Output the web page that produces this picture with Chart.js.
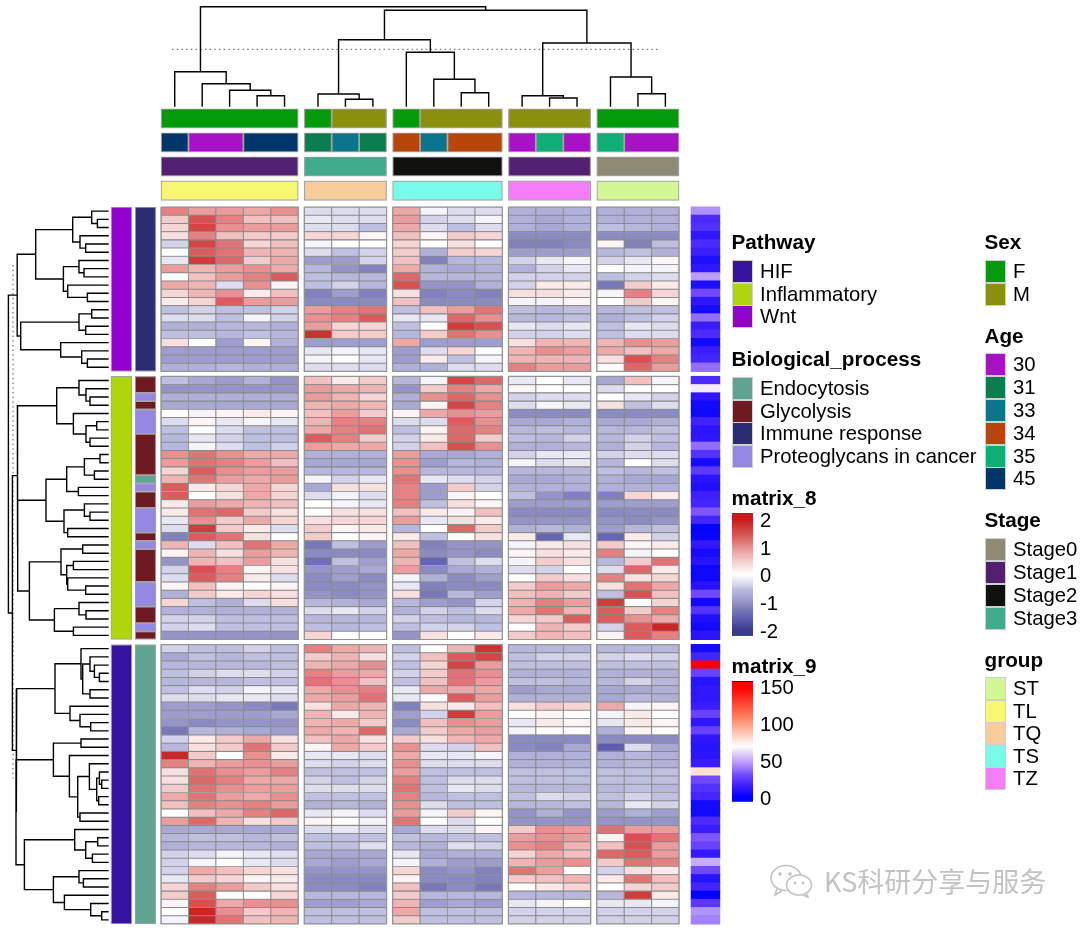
<!DOCTYPE html>
<html><head><meta charset="utf-8">
<style>
html,body{margin:0;padding:0;background:#fff;width:1080px;height:930px;overflow:hidden;font-family:"Liberation Sans",Arial,sans-serif;color:#000}
#wrap{position:relative;width:1080px;height:930px}
canvas{position:absolute;left:0;top:0}
.t{position:absolute;white-space:nowrap;line-height:1;transform:translateY(-50%);font-size:20.3px}
.b{font-weight:bold;font-size:20.7px}
.s{position:absolute;box-sizing:border-box;border:1px solid #cfcfcf}
.wm{font-family:"Noto Sans CJK SC";font-size:27px;color:#c2c2c2;letter-spacing:0}
</style></head><body><div id="wrap"><canvas id="c" width="1080" height="930"></canvas></div>
<script src="https://cdn.jsdelivr.net/npm/chart.js"></script>
<script>
// ---- column annotations
const sexByCol=['F','F','F','F','F','F','M','M','F','M','M','M','M','M','M','F','F','F'];
const ageByCol=[45,30,30,45,45,31,33,31,34,33,34,34,30,35,30,35,30,30];
const stageByCol=['Stage1','Stage1','Stage1','Stage1','Stage1','Stage3','Stage3','Stage3','Stage2','Stage2','Stage2','Stage2','Stage1','Stage1','Stage1','Stage0','Stage0','Stage0'];
const groupByCol=['TL','TL','TL','TL','TL','TQ','TQ','TQ','TS','TS','TS','TS','TZ','TZ','TZ','ST','ST','ST'];
const colGroupSizes=[5,3,4,3,3];
// ---- matrix_8 values (tenths of a z-score), one array per row
const rowsWnt=[
[11,9,9,8,10,-3,-3,-3,8,-1,-3,-3,-7,-7,-7,-7,-7,-7],
[5,15,11,6,6,-2,-3,-3,9,-4,-3,-1,-7,-8,-7,-7,-7,-7],
[4,16,10,9,9,-3,-3,-5,8,-3,-5,-3,-7,-8,-7,-5,-6,-7],
[3,11,6,5,5,4,4,1,6,1,5,4,-11,-11,-11,-11,-11,-11],
[-4,16,12,4,6,-1,0,0,4,0,3,0,-12,-12,-11,1,-12,-5],
[0,14,12,7,7,-3,-5,-4,5,-7,5,4,-9,-9,-9,-6,-5,-7],
[-2,17,13,5,8,-9,-9,-4,6,-12,-6,-6,-4,-2,-1,-4,-2,1],
[9,7,9,10,8,-6,-10,-12,8,-7,-8,-7,-7,-4,-2,0,-1,-1],
[0,6,9,11,14,-5,-6,-6,13,-6,-6,-6,-4,-4,-4,-5,-4,-3],
[8,7,-3,10,1,-5,-4,-6,15,-10,-10,-7,-4,2,2,-13,5,2],
[4,7,10,2,6,-12,-9,-12,3,-12,-11,-12,3,3,2,-1,11,4],
[2,4,14,9,9,-11,-11,-11,6,-11,-11,-11,-1,-1,1,0,5,1],
[-5,-4,-5,-5,-4,9,11,12,-5,6,9,12,-5,-6,-5,-6,-5,-5],
[-3,-3,-5,-1,-4,10,11,14,-2,-2,13,10,-6,-6,-5,-7,-5,-4],
[-7,-7,-6,-6,-7,9,4,4,-5,0,17,15,-2,-3,-2,-5,-2,-3],
[-5,-5,-6,-5,-6,18,5,5,-6,5,12,10,-4,-4,-3,-5,-3,-3],
[3,0,-9,1,-7,-9,-9,-9,8,-9,-9,-9,3,7,7,7,10,9],
[-9,-9,-9,-9,-9,-2,-1,-2,-9,-3,4,0,7,10,9,8,6,8],
[-9,-9,-9,-9,-9,-1,0,-2,-9,2,-5,-1,7,7,7,3,15,11],
[-7,-7,-6,-7,-7,-3,-3,-3,-7,-7,-3,-3,11,9,9,0,13,9]];
const rowsInflammatory=[
[-5,-8,-9,-7,-10,6,2,5,-6,-1,16,13,-2,0,-2,-8,6,-1],
[-10,-10,-10,-10,-10,9,8,7,-10,5,11,8,1,0,0,-3,0,0],
[-7,-7,-7,-7,-7,9,7,4,-7,10,13,10,-4,-3,-3,0,-2,-4],
[-8,-8,-8,-8,-8,7,8,7,-8,1,16,11,-3,-1,-2,3,-5,-3],
[0,-1,1,2,1,6,9,5,1,8,10,9,-11,-11,-11,-11,-11,-11],
[-3,1,-2,-1,-2,7,11,11,-3,-3,14,10,-8,-8,-7,-8,-8,-7],
[-5,0,-3,-5,-5,8,11,12,-5,1,13,11,-6,-5,-6,-6,-6,-5],
[-6,-2,-4,-5,-5,14,11,5,-4,2,13,5,-5,-6,-4,-6,-4,-5],
[-6,-1,-3,-5,-4,9,8,8,-4,6,15,10,-7,-7,-6,-7,-4,-6],
[10,12,10,8,8,-7,-7,-7,9,-8,-8,-7,-4,-2,-2,-4,-3,-3],
[9,12,11,9,6,-8,-8,-8,10,-9,-6,-7,-1,-3,-2,-6,0,-3],
[4,14,10,9,9,-6,-6,-6,10,-6,-6,-6,-6,-6,-6,-5,-6,-5],
[7,12,9,8,9,-1,-4,-2,12,-2,-3,-4,-8,-8,-7,-7,-8,-8],
[14,2,4,8,4,-8,3,3,11,-9,5,-4,-7,-7,-7,-7,-7,-7],
[14,0,3,8,4,-3,-1,-3,11,-9,1,0,-5,-10,-12,-12,4,2],
[2,9,8,7,6,0,-1,-2,11,-5,3,1,-9,-9,-9,-9,-9,-9],
[2,12,13,5,3,0,3,3,6,2,1,6,-11,-11,-11,-11,-11,-11],
[-2,10,5,8,4,3,4,4,9,-2,3,2,-10,-10,-10,-10,-11,-10],
[-3,17,5,2,-3,5,1,2,-6,0,13,5,-7,-6,-7,-9,-6,-5],
[-12,14,12,3,0,5,0,1,2,-5,0,3,2,-15,-2,-15,2,-4],
[7,-3,6,12,8,-13,-5,-9,6,-12,-10,-10,-1,2,3,5,1,2],
[1,7,3,9,7,-11,-11,-11,8,-11,-10,-11,1,3,2,11,-1,0],
[-10,7,6,9,3,-14,-5,-9,7,-15,-5,-3,-1,5,3,-6,5,12],
[-4,15,11,1,3,-10,-9,-8,9,-11,-8,-7,-3,-4,0,-3,13,2],
[-3,14,11,2,-3,-11,-9,-11,-1,-7,-11,-9,0,5,3,11,3,4],
[1,6,1,0,1,-11,-11,-10,-2,-12,-11,-11,5,9,8,3,12,8],
[-7,5,2,4,3,-10,-11,-10,3,-13,-6,-9,6,7,5,-5,15,6],
[4,-5,-7,-3,3,-6,-7,-8,-6,-9,-10,-4,7,11,9,17,0,4],
[-7,-7,-7,-7,-7,-3,-2,-4,-7,-4,-5,-3,8,12,7,14,5,11],
[-4,-4,-5,-5,-5,-6,-6,-6,-4,-5,-6,-6,4,5,14,14,10,8],
[-4,-3,-5,-5,-5,-5,-6,-5,-5,-4,-4,-5,0,7,5,-4,14,19],
[-10,-10,-10,-10,-10,4,0,0,-10,3,0,2,5,7,6,1,14,11]];
const rowsHIF=[
[-4,-5,-5,-4,-5,11,8,7,-5,0,7,18,-6,-6,-6,-6,-6,-6],
[-8,-5,-6,-5,-5,5,7,3,-4,6,14,16,-5,-4,-4,-4,-3,-4],
[-6,-6,-6,-6,-5,7,8,10,-5,4,16,9,-5,-5,-5,-5,-5,-5],
[-5,-4,-3,-3,-4,11,9,8,-4,5,12,10,-7,-7,-7,-7,-7,-7],
[-6,-6,-6,-5,-5,12,10,6,-5,6,12,9,-5,-5,-6,-6,-4,-6],
[-5,-3,-4,-1,-2,8,10,11,-2,8,8,8,-9,-8,-8,-8,-8,-7],
[-3,-3,-2,-2,-3,8,9,12,-2,0,14,9,-7,-7,-7,-8,-6,-7],
[-9,-9,-10,-11,-13,3,8,7,-12,3,2,6,3,5,4,8,-1,1],
[-9,-9,-9,-9,-8,7,2,7,-9,-4,17,9,0,1,0,-1,2,0],
[-10,-11,-10,-10,-10,7,8,5,-11,6,10,9,-2,2,1,-2,2,1],
[-13,-6,-7,-8,-9,8,7,13,-8,5,8,9,-1,0,0,-7,1,0],
[-4,2,5,8,3,6,8,3,5,3,7,8,-11,-11,-11,-11,-11,-11],
[-6,3,5,12,5,1,8,5,10,-3,-4,6,-11,-12,-8,-16,-3,-8],
[19,5,0,10,2,-2,-2,-3,8,-2,-2,-1,-7,-7,-7,-7,-6,-7],
[11,7,9,10,9,-3,-4,-3,10,-3,-3,-3,-7,-7,-7,-7,-6,-7],
[3,12,10,9,11,-5,-5,-5,9,-5,-5,-5,-5,-5,-5,-5,-5,-5],
[3,13,11,8,8,-4,-5,-4,11,-5,-3,-3,-5,-5,-5,-5,-5,-5],
[5,12,10,9,9,-3,-3,-3,12,-5,-2,-3,-6,-6,-6,-6,-5,-6],
[8,12,9,8,10,-5,-5,-5,11,-6,-5,-5,-5,-3,-4,-5,-4,-5],
[6,11,10,11,9,-7,-6,-7,10,-3,-5,-5,-6,-6,-5,-6,-2,-4],
[0,6,8,11,13,-2,-1,-3,9,-1,5,1,-10,-7,-10,-9,-7,-9],
[9,13,7,3,5,1,0,-1,12,0,-3,0,-10,-10,-10,-10,-10,-10],
[-8,-8,-8,-8,-8,-3,-2,-3,-8,-3,-3,1,5,10,9,12,9,9],
[-6,-5,-5,-6,-5,-5,-5,-5,-5,-6,-5,-5,9,10,9,1,15,12],
[-7,-6,-6,-6,-7,-5,-5,-3,-6,-7,-3,-4,10,11,7,6,15,9],
[-4,-3,-1,-2,-3,-8,-8,-8,-2,-8,-7,-7,4,8,6,13,14,9],
[-4,-1,0,-2,-3,-8,-9,-8,-1,-7,-9,-9,7,9,10,5,12,11],
[-4,8,6,4,3,-10,-10,-10,4,-11,-10,-12,12,9,0,-4,3,2],
[-2,5,4,1,2,-11,-11,-11,1,-11,-11,-12,5,6,7,2,12,6],
[4,11,9,5,3,-11,-11,-12,6,-13,-11,-13,0,2,4,0,4,5],
[5,14,0,0,4,-6,-6,-6,5,-6,-6,-6,-6,-6,-6,-6,17,2],
[1,15,8,10,10,-9,-9,-8,7,-9,-8,-9,-2,-1,0,-2,-2,-1],
[0,19,10,5,7,-5,-5,-5,8,-5,-5,-5,-4,-4,-4,-4,-4,-4],
[-1,19,12,6,7,-5,-5,-5,5,-5,-5,-5,-4,-4,-4,-4,-4,-4]];
// ---- matrix_9 values per row
const m9Wnt=[45,20,22,12,20,16,8,12,48,8,30,12,6,38,15,20,5,15,18,38];
const m9Inflammatory=[20,66,12,5,4,17,11,12,38,22,6,25,11,8,16,18,33,18,1,2,13,6,10,4,4,10,30,4,23,8,5,11];
const m9HIF=[6,18,150,28,10,12,12,15,28,12,28,12,10,11,15,80,30,22,18,5,5,20,15,33,28,14,52,30,10,18,0,24,46,42];
// ---- row annotation
const bioInflammatory=['G','G','P','G','P','P','P','G','G','G','G','G','E','P','G','G','P','P','P','G','P','G','G','G','G','P','P','P','G','G','P','G'];
// ---- dendrograms: node = [height, left, right], 0 = leaf
const treeTop=[100,[35,0,[23,0,[16.4,0,[11,0,0]]]],[96.4,[67,[12.7,0,[7.4,0,0]],[54.4,0,[27.4,0,[14,0,0]]]],[63.7,[11,0,[8.7,0,0]],[29.7,0,[13,0,0]]]]];
const treeWnt=[91.5,[73,[36,[17,0,[11.3,0,0]],[28.7,0,[23,0,0]]],[45.3,[29.7,0,[24.7,0,0]],[41,0,[21.3,0,0]]]],[88,[29.7,[17,0,0],[23,0,0]],[48,0,[27,0,[21.3,0,0]]]]];
const treeInf=[91.3,[52,[29.7,0,[22.7,0,[18.7,0,0]]],[35.3,0,[22.7,[12,0,0],[18.7,0,0]]]],[91,[62.7,[42,[24.3,[8.7,0,0],[14.3,0,0]],[30.3,0,0]],[44.7,[24.3,0,[18.7,0,0]],[41,0,0]]],[79.3,[47.7,[26,0,0],[42,[35.3,0,0],[41,0,[23,0,0]]]],[54.3,[29.7,0,[22.7,0,0]],[35.3,0,0]]]]];
const treeHIF=[92,[53.7,[27.7,0,[26,[18.7,0,[14.3,0,[9.3,0,0]]],[18.7,0,0]]],[38.7,0,[28.7,0,[18,0,0]]]],[92.7,[55.3,[27.7,0,0],[39.3,0,[31,[19.3,0,[12,[9.3,0,[7,0,0]],[10,0,0]]],[28.7,0,0]]]],[84.3,[34,0,[23,[11,0,0],[16.3,0,0]]],[55.3,[29.7,0,[25.3,0,0]],[44.3,0,[18,0,[7,0,0]]]]]]];
const treeLeft=[100.3,treeWnt,[96.3,treeInf,treeHIF]];
const cutTop=57.4, cutLeft=95.7;
// ---- colours and legend labels
const sexColors={F:'#059a0b',M:'#8a8f0c'};
const ageColors={30:'#a812c6',31:'#0a7d4e',33:'#0a758c',34:'#b8460a',35:'#10ad74',45:'#003668'};
const stageColors={Stage0:'#8f8a74',Stage1:'#512070',Stage2:'#10110c',Stage3:'#40aa8c'};
const groupColors={ST:'#d4f796',TL:'#f8f870',TQ:'#f8cd9c',TS:'#78fbe8',TZ:'#f57df7'};
const pathwayColors={HIF:'#3512a0',Inflammatory:'#aed60a',Wnt:'#9100cc'};
const bioColors={Endocytosis:'#5fa391',Glycolysis:'#6e1a22','Immune response':'#2b2d70','Proteoglycans in cancer':'#9588e2'};
const bioCode={E:'Endocytosis',G:'Glycolysis',I:'Immune response',P:'Proteoglycans in cancer'};
const m8Stops=[[-20,[58,58,142]],[-16,[92,92,176]],[-13,[120,120,184]],[-10,[148,148,200]],[-8,[168,168,212]],[-5,[191,191,226]],[-4,[210,210,234]],[-2,[232,232,244]],[0,[255,255,255]],[3,[249,224,224]],[6,[242,192,192]],[10,[232,144,144]],[12,[224,116,116]],[15,[216,80,80]],[18,[208,48,48]],[20,[200,26,26]]];
const m9Stops=[[0,[0,0,255]],[15,[58,28,255]],[30,[112,72,255]],[45,[176,144,252]],[60,[224,208,250]],[70,[255,255,255]],[85,[255,208,192]],[110,[255,128,96]],[150,[255,0,0]]];
function ramp(stops,v){
  if(v<=stops[0][0])return 'rgb('+stops[0][1]+')';
  for(let i=1;i<stops.length;i++){
    if(v<=stops[i][0]){const a=stops[i-1],b=stops[i],t=(v-a[0])/(b[0]-a[0]);
      return 'rgb('+a[1].map((c,k)=>Math.round(c+(b[1][k]-c)*t)).join(',')+')';}
  }
  return 'rgb('+stops[stops.length-1][1]+')';
}
// ---- layout on the row/column axes
const rowPx=8.22,colPx=27.45,colGap=0.2186,rowGap=0.614,borderGray='#8a8a8a';
const rowGroups=[rowsWnt,rowsInflammatory,rowsHIF];
const rows=[].concat(...rowGroups);
const m9=[].concat(m9Wnt,m9Inflammatory,m9HIF);
const colStart=[];let cg=[];
colGroupSizes.forEach((n,g)=>{const s=colStart.length;for(let i=0;i<n;i++)colStart.push(s+i+g*colGap);cg.push([colStart[s],colStart[s+n-1]+1]);});
const rowStart=[];let rg=[];
rowGroups.forEach((r,g)=>{const s=rowStart.length;r.forEach((_,i)=>rowStart.push(s+i+g*rowGap));rg.push([rowStart[s],rowStart[s+r.length-1]+1]);});
// cells
const heatData=[],heatColors=[];
rows.forEach((r,i)=>r.forEach((v,c)=>{heatData.push({x:[colStart[c],colStart[c]+1],y:rowStart[i]+.5});heatColors.push(ramp(m8Stops,v));}));
const m9Data=m9.map((v,i)=>({x:[19.31,20.36],y:rowStart[i]+.5}));
const m9Colors=m9.map(v=>ramp(m9Stops,v));
function bar(data,colors,thick,extra){return Object.assign({type:'bar',data,backgroundColor:colors,barThickness:thick,grouped:false,indexAxis:'y',borderSkipped:false,borderColor:'#a4a4a4',borderWidth:0,xAxisID:'x',yAxisID:'y',order:2},extra||{});}
// merged runs
function colRuns(vals,map,yc){const d=[],c=[];let i=0;while(i<vals.length){let j=i;while(j+1<vals.length&&vals[j+1]===vals[i]&&colStart[j+1]-colStart[j]<1.01)j++;d.push({x:[colStart[i],colStart[j]+1],y:yc});c.push(map[vals[i]]);i=j+1;}return bar(d,c,19.5,{borderWidth:1.2});}
function rowRuns(vals,map,xc){const d=[],c=[];let i=0;while(i<vals.length){let j=i;while(j+1<vals.length&&vals[j+1]===vals[i]&&rowStart[j+1]-rowStart[j]<1.01)j++;d.push({x:xc,y:[rowStart[i],rowStart[j]+1]});c.push(map[vals[i]]);i=j+1;}return bar(d,c,21,{indexAxis:'x',borderWidth:1.2});}
const pathwayByRow=[].concat(rowsWnt.map(()=>'Wnt'),rowsInflammatory.map(()=>'Inflammatory'),rowsHIF.map(()=>'HIF'));
const bioByRow=[].concat(rowsWnt.map(()=>'Immune response'),bioInflammatory.map(k=>bioCode[k]),rowsHIF.map(()=>'Endocytosis'));
// dendrogram paths
const GAP={x:NaN,y:NaN};
function walk(node,pos,cnt,out,mk){
  if(node===0)return {p:pos[cnt.i++],h:0};
  const a=walk(node[1],pos,cnt,out,mk),b=walk(node[2],pos,cnt,out,mk),h=node[0];
  out.push(mk(a.p,a.h),mk(a.p,h),mk(b.p,h),mk(b.p,b.h),GAP);
  return {p:(a.p+b.p)/2,h};
}
const topPath=[],leftPath=[];
walk(treeTop,colStart.map(c=>c+.5),{i:0},topPath,(p,h)=>({x:p,y:h}));
walk(treeLeft,rowStart.map(r=>r+.5),{i:0},leftPath,(p,h)=>({x:h,y:p}));
function line(data,xId,yId,extra){return Object.assign({type:'line',data,xAxisID:xId,yAxisID:yId,borderColor:'#000',borderWidth:1.4,pointRadius:0,spanGaps:false,tension:0,fill:false,order:1},extra||{});}
// panel outlines
const outline=[];
rg.forEach(r=>cg.forEach(c=>{outline.push({x:c[0],y:r[0]},{x:c[1],y:r[0]},{x:c[1],y:r[1]},{x:c[0],y:r[1]},{x:c[0],y:r[0]},GAP);}));
const datasets=[
  bar(heatData,heatColors,rowPx,{borderWidth:0.85,borderColor:borderGray}),
  bar(m9Data,m9Colors,rowPx+.4),
  colRuns(sexByCol,sexColors,-10.77),
  colRuns(ageByCol,ageColors,-7.85),
  colRuns(stageByCol,stageColors,-4.93),
  colRuns(groupByCol,groupColors,-2.0),
  rowRuns(pathwayByRow,pathwayColors,-1.44),
  rowRuns(bioByRow,bioColors,-0.565),
  line(outline,'x','y',{borderColor:'#949494',borderWidth:1.2}),
  line(topPath,'x','hTop'),
  line(leftPath,'hLeft','y'),
  line([{x:0.4,y:cutTop},{x:18.18,y:cutTop}],'x','hTop',{borderDash:[1.5,3.2],borderColor:'#555',borderWidth:1}),
  line([{x:cutLeft,y:7.06},{x:cutLeft,y:69.5}],'hLeft','y',{borderDash:[1.5,3.2],borderColor:'#555',borderWidth:1})
];
const hidden={display:false,type:'linear',offset:false,beginAtZero:false,grid:{display:false}};
new Chart(document.getElementById('c'),{
  type:'bar',
  data:{datasets},
  options:{
    responsive:false,animation:false,devicePixelRatio:1,
    layout:{padding:0},
    plugins:{legend:{display:false},tooltip:{enabled:false},title:{display:false}},
    scales:{
      x:Object.assign({},hidden,{axis:'x',position:'bottom',min:-161/colPx,max:(1080-161)/colPx}),
      y:Object.assign({},hidden,{axis:'y',position:'left',reverse:true,min:-207/rowPx,max:(930-207)/rowPx}),
      hLeft:Object.assign({},hidden,{axis:'x',position:'top',reverse:true,min:108.7-1080,max:108.7}),
      hTop:Object.assign({},hidden,{axis:'y',position:'right',min:106.7-930,max:106.7})
    }
  }
});
// ---- legends as real text
const wrap=document.getElementById('wrap');
function txt(s,x,y,cls){const e=document.createElement('div');e.className='t '+(cls||'');e.textContent=s;e.style.left=x+'px';e.style.top=(y+.2)+'px';wrap.appendChild(e);return e;}
function sw(x,y,w,h,bg){const e=document.createElement('div');e.className='s';e.style.cssText+='left:'+x+'px;top:'+y+'px;width:'+w+'px;height:'+h+'px;background:'+bg;wrap.appendChild(e);return e;}
function legend(title,x,ty,items,map,ys){txt(title,x,ty,'b');items.forEach((k,i)=>{sw(x+.5,ys[i]-11.5,21,23,map[k]);txt(String(k),x+28.5,ys[i]);});}
legend('Pathway',731.5,242,Object.keys(pathwayColors),pathwayColors,[271,294,316]);
legend('Biological_process',731.5,359,Object.keys(bioColors),bioColors,[388,411,433,456]);
legend('Sex',984.5,242,Object.keys(sexColors),sexColors,[271,294]);
legend('Age',984.5,336,Object.keys(ageColors),ageColors,[364,387,410,433,456,478]);
legend('Stage',984.5,520,Object.keys(stageColors),stageColors,[549,572,595,618]);
legend('group',984.5,660,Object.keys(groupColors),groupColors,[688,711,733,756,778]);
function cssGrad(stops,lo,hi){const parts=stops.slice().reverse().map(s=>'rgb('+s[1]+') '+(((hi-s[0])/(hi-lo))*100).toFixed(1)+'%');return 'linear-gradient(to bottom,'+parts.join(',')+')';}
txt('matrix_8',731.5,498,'b');
sw(732,513,21,123,cssGrad(m8Stops,-22,22)).style.borderColor='transparent';
[['2',520],['1',548],['0',575],['-1',603],['-2',631]].forEach(a=>txt(a[0],760,a[1]));
txt('matrix_9',731.5,666,'b');
sw(732,681,21,121,cssGrad(m9Stops,-5,158)).style.borderColor='transparent';
[['150',687],['100',724],['50',761],['0',798]].forEach(a=>txt(a[0],760,a[1]));
// watermark
txt('KS科研分享与服务',824,880,'wm');
const ns='http://www.w3.org/2000/svg';const svg=document.createElementNS(ns,'svg');
svg.setAttribute('width','46');svg.setAttribute('height','34');svg.style.cssText='position:absolute;left:769px;top:864px';
svg.innerHTML='<g fill="none" stroke="#c2c2c2" stroke-width="1.6"><ellipse cx="17" cy="14" rx="15" ry="12.5"/><path d="M8 24l-2 7 7-4"/><ellipse cx="30" cy="21" rx="12.5" ry="10" fill="#fff"/><path d="M37 29l2 4-5-2"/></g><g fill="#c2c2c2"><circle cx="11" cy="10" r="1.8"/><circle cx="21" cy="10" r="1.8"/><circle cx="26" cy="19" r="1.5"/><circle cx="34" cy="19" r="1.5"/></g>';
wrap.appendChild(svg);
</script></body></html>
